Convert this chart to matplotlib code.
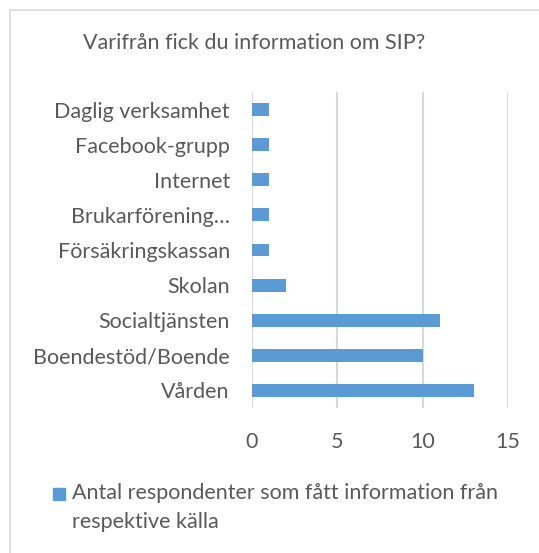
import matplotlib.pyplot as plt
from matplotlib.patches import Rectangle

plt.rcParams['font.family'] = ['Lato', 'DejaVu Sans']

categories = ['Vården', 'Boendestöd/Boende', 'Socialtjänsten', 'Skolan',
              'Försäkringskassan', 'Brukarförening…', 'Internet',
              'Facebook-grupp', 'Daglig verksamhet']
values = [13, 10, 11, 2, 1, 1, 1, 1, 1]
xticks = [0, 5, 10, 15]
title = 'Varifrån fick du information om SIP?'
series_name = 'Antal respondenter som fått information från\nrespektive källa'

text_col = '#595959'
bar_col = '#5B9BD5'
grid_col = '#d9d9d9'

fig = plt.figure(figsize=(5.39, 5.53), dpi=100)
fig.patches.append(Rectangle((10 / 539, -0.02), 1.0, 1 - 10 / 553 + 0.02,
                             transform=fig.transFigure, fill=False,
                             edgecolor=grid_col, lw=1.2))

ax = fig.add_axes([252 / 539, 1 - 408 / 553, 256 / 539, 316 / 553])
ax.barh(range(len(categories)), values, height=0.37, color=bar_col, zorder=3)
ax.set_xlim(0, 15)
ax.set_ylim(-0.5, len(categories) - 0.5)
ax.set_xticks(xticks)
ax.set_yticks(range(len(categories)))
ax.set_yticklabels(categories)
ax.grid(axis='x', color=grid_col, lw=1.5, zorder=0)
for s in ax.spines.values():
    s.set_visible(False)
ax.tick_params(length=0, colors=text_col, labelsize=15.5)
ax.tick_params(axis='y', pad=16)
ax.tick_params(axis='x', pad=17)

fig.text(254 / 539, 1 - 43 / 553, title, ha='center', va='center',
         fontsize=15.5, color=text_col)

# legend drawn by hand, Excel style
fig.patches.append(Rectangle((53 / 539, 1 - 500 / 553), 12 / 539, 12 / 553,
                             transform=fig.transFigure, color=bar_col))
fig.text(72 / 539, 1 - 483 / 553, series_name, ha='left', va='top',
         fontsize=15.5, color=text_col, linespacing=1.55)

fig.savefig('out.png', dpi=100)
